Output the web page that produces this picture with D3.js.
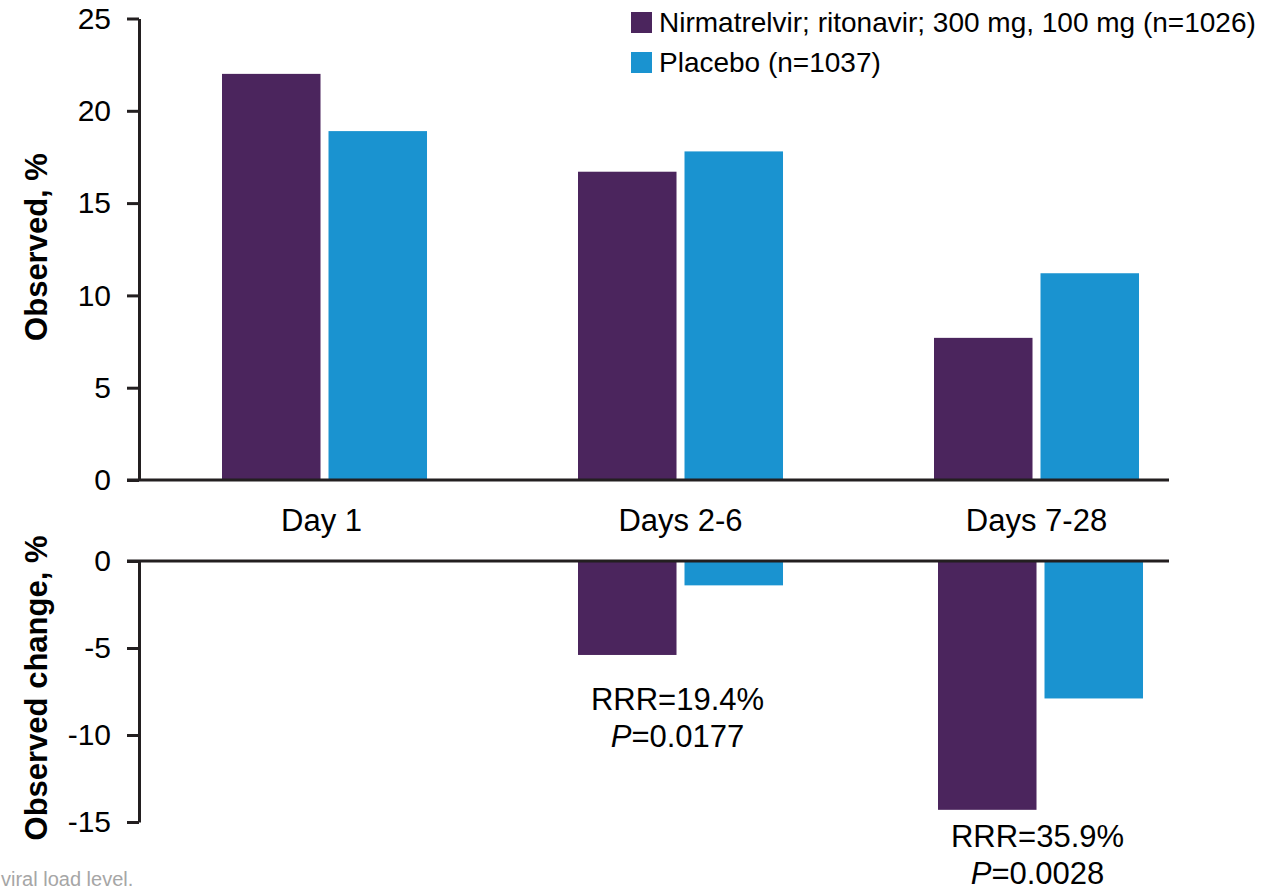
<!DOCTYPE html>
<html>
<head>
<meta charset="utf-8">
<script src="https://cdn.jsdelivr.net/npm/d3@7"></script>
<style>
  html, body { margin: 0; padding: 0; background: #fff; }
  svg { display: block; font-family: "Liberation Sans", Arial, sans-serif; }
</style>
</head>
<body>
<svg id="chart" width="1281" height="891"></svg>
<script>
// Time windows on the category axis
const periods = ["Day 1", "Days 2-6", "Days 7-28"];
// Treatment arms
const arms = ["Nirmatrelvir; ritonavir; 300 mg, 100 mg (n=1026)", "Placebo (n=1037)"];
const armColors = ["#4b255d", "#1a93d0"];
// Observed rate, % (upper panel)
const observedDrug = [22.0, 16.7, 7.7];
const observedPlacebo = [18.9, 17.8, 11.2];
// Observed change from Day 1, % (lower panel)
const changeDrug = [null, -5.4, -14.3];
const changePlacebo = [null, -1.4, -7.9];
// Relative risk reduction notes under the lower panel
const notePeriods = ["Days 2-6", "Days 7-28"];
const noteRRR = ["RRR=19.4%", "RRR=35.9%"];
const noteP = ["=0.0177", "=0.0028"];
// Axis ticks
const topTicks = [0, 5, 10, 15, 20, 25];
const bottomTicks = [0, -5, -10, -15];

const svg = d3.select("#chart");
const axisColor = "#231f20";

// ---------- Upper panel ----------
const yTop = d3.scaleLinear().domain([0, 25]).range([480, 18.5]);
const x0Top = d3.scaleBand().domain(periods).range([146.5, 1214.5])
  .paddingInner(0.4242).paddingOuter(0.2121);
const x1 = d3.scaleBand().domain(arms).range([0, 205]).paddingInner(0.0751);

const topRows = periods.map((p, i) => ({ period: p, values: [observedDrug[i], observedPlacebo[i]] }));

svg.append("g").selectAll("g.grp").data(topRows).join("g")
  .attr("class", "grp")
  .attr("transform", d => `translate(${x0Top(d.period)},0)`)
  .selectAll("rect").data(d => d.values.map((v, j) => ({ arm: arms[j], v, j })))
  .join("rect")
  .attr("x", d => x1(d.arm))
  .attr("width", x1.bandwidth())
  .attr("y", d => yTop(d.v))
  .attr("height", d => yTop(0) - yTop(d.v))
  .attr("fill", d => armColors[d.j]);

// baseline
svg.append("line")
  .attr("x1", 127).attr("x2", 1169)
  .attr("y1", yTop(0)).attr("y2", yTop(0))
  .attr("stroke", axisColor).attr("stroke-width", 3);

// tick labels use a plain hyphen for negatives
const plainFmt = d => String(d);

const axTop = svg.append("g").attr("transform", "translate(139,0)")
  .call(d3.axisLeft(yTop).tickValues(topTicks).tickSize(12).tickSizeOuter(0).tickPadding(16)
    .tickFormat(plainFmt));

// category labels
svg.append("g").selectAll("text").data(periods).join("text")
  .attr("x", d => x0Top(d) + x0Top.bandwidth() / 2 - (d === "Day 1" ? 3 : 0))
  .attr("y", 531)
  .attr("text-anchor", "middle")
  .attr("font-size", 31)
  .attr("fill", "#000")
  .text(d => d);

// ---------- Lower panel ----------
const yBot = d3.scaleLinear().domain([-15, 0]).range([822, 561]);
const x0Bot = d3.scaleBand().domain(periods).range([140.5, 1220.5])
  .paddingInner(0.4306).paddingOuter(0.2153);

const botRows = periods.map((p, i) => ({ period: p, values: [changeDrug[i], changePlacebo[i]] }))
  .filter(d => d.values[0] !== null);

svg.append("g").selectAll("g.grp").data(botRows).join("g")
  .attr("class", "grp")
  .attr("transform", d => `translate(${x0Bot(d.period)},0)`)
  .selectAll("rect").data(d => d.values.map((v, j) => ({ arm: arms[j], v, j })))
  .join("rect")
  .attr("x", d => x1(d.arm))
  .attr("width", x1.bandwidth())
  .attr("y", yBot(0))
  .attr("height", d => yBot(d.v) - yBot(0))
  .attr("fill", d => armColors[d.j]);

svg.append("line")
  .attr("x1", 127).attr("x2", 1169)
  .attr("y1", yBot(0)).attr("y2", yBot(0))
  .attr("stroke", axisColor).attr("stroke-width", 3);

const axBot = svg.append("g").attr("transform", "translate(139,0)")
  .call(d3.axisLeft(yBot).tickValues(bottomTicks).tickSize(12).tickSizeOuter(0).tickPadding(16)
    .tickFormat(plainFmt));

// axis styling
[axTop, axBot].forEach(ax => {
  ax.select(".domain").attr("stroke", axisColor).attr("stroke-width", 3);
  ax.selectAll(".tick line").attr("stroke", axisColor).attr("stroke-width", 3);
  ax.selectAll(".tick text")
    .attr("font-size", 30)
    .attr("font-family", "'Liberation Sans', Arial, sans-serif")
    .attr("fill", "#000");
});

// RRR / P-value notes
const notes = svg.append("g").attr("font-size", 31).attr("fill", "#000").attr("text-anchor", "middle");
const noteBase = [710, 847];
notePeriods.forEach((p, i) => {
  const cx = x0Bot(p) + x0Bot.bandwidth() / 2 - 3;
  notes.append("text").attr("x", cx).attr("y", noteBase[i]).text(noteRRR[i]);
  const t = notes.append("text").attr("x", cx).attr("y", noteBase[i] + 37);
  t.append("tspan").attr("font-style", "italic").text("P");
  t.append("tspan").text(noteP[i]);
});

// axis titles
svg.append("text")
  .attr("transform", "translate(47,247) rotate(-90)")
  .attr("text-anchor", "middle")
  .attr("font-size", 31).attr("font-weight", "bold").attr("fill", "#000")
  .text("Observed, %");
svg.append("text")
  .attr("transform", "translate(47,688) rotate(-90)")
  .attr("text-anchor", "middle")
  .attr("font-size", 31).attr("font-weight", "bold").attr("fill", "#000")
  .text("Observed change,  %");

// legend
const legend = svg.append("g").attr("transform", "translate(631,12)");
const li = legend.selectAll("g").data(arms).join("g")
  .attr("transform", (d, i) => `translate(0,${i * 40})`);
li.append("rect").attr("width", 21).attr("height", 21).attr("fill", (d, i) => armColors[i]);
li.append("text").attr("x", 28).attr("y", 20).attr("font-size", 28).attr("fill", "#000").text(d => d);

// footnote fragment at the lower-left corner
svg.append("text")
  .attr("x", 1).attr("y", 886)
  .attr("font-size", 20)
  .attr("fill", "#a6a6a6")
  .text("viral load level.");
</script>
</body>
</html>
